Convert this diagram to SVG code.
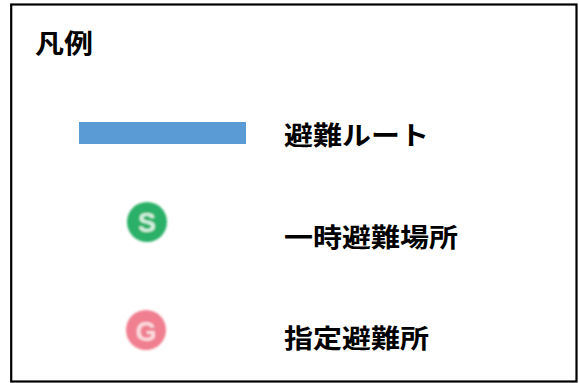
<svg xmlns="http://www.w3.org/2000/svg" width="579" height="383" viewBox="0 0 579 383">
<style>
.t{font-family:"Noto Sans CJK JP","Noto Sans CJK SC",sans-serif;font-weight:700;font-size:29px;fill:#000}
.b{font-family:"Liberation Sans",Arial,sans-serif;font-weight:700;font-size:27px;text-anchor:middle}
.i{filter:url(#soft)}
</style>
<defs><filter id="soft" x="-20%" y="-20%" width="140%" height="140%"><feGaussianBlur stdDeviation="0.8"/></filter></defs>
<rect width="579" height="383" fill="#fff"/>
<rect id="frame" x="11.200" y="4.500" width="565.300" height="377" fill="none" stroke="#000" stroke-width="2.200"/>
<g id="title"><text class="t" transform="translate(35 53) scale(1 .9)">凡例</text></g>
<g id="route">
<rect x="79" y="122" width="167" height="22" fill="#5b9bd5"/>
<text class="t" transform="translate(284 145) scale(1 .9)">避難ルート</text>
</g>
<g id="temporary">
<g class="i">
<circle cx="147" cy="222" r="20" fill="#2bb068"/>
<text class="b" x="147" y="232" fill="#d8f3e2">S</text>
</g>
<text class="t" transform="translate(284 247) scale(1 .9)">一時避難場所</text>
</g>
<g id="designated">
<g class="i">
<circle cx="146" cy="330" r="20" fill="#f07f90"/>
<text class="b" x="146" y="341" fill="#fbdde0">G</text>
</g>
<text class="t" transform="translate(284 348) scale(1 .9)">指定避難所</text>
</g>
</svg>
